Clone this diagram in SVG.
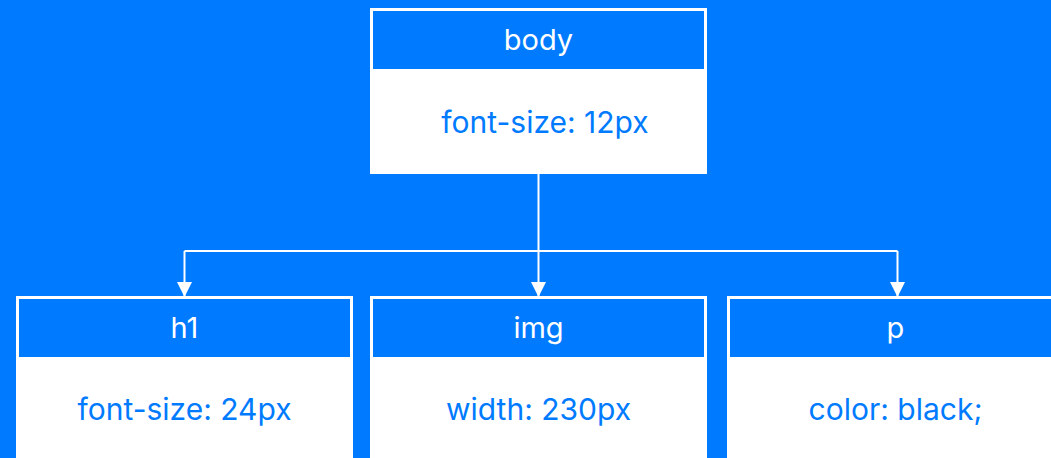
<svg xmlns="http://www.w3.org/2000/svg" width="1051" height="458" viewBox="0 0 1051 458">
<style>
.frame{fill:#ffffff}
.head{fill:#007bff}
.ht{font-family:Inter,"Noto Sans",sans-serif;font-size:29px;fill:#ffffff;text-anchor:middle}
.bt{font-family:Inter,"Noto Sans",sans-serif;font-size:30px;fill:#007bff;text-anchor:middle}
.conn{stroke:#ffffff;stroke-width:2;fill:none}
</style>
<defs>
<marker id="arr" markerWidth="16" markerHeight="16" refX="15" refY="8" orient="auto" markerUnits="userSpaceOnUse">
<path d="M0,0.5 L15,8 L0,15.5 Z" fill="#ffffff"/>
</marker>
</defs>
<rect x="0" y="0" width="1051" height="458" fill="#007bff"/>
<g id="connectors">
<path class="conn" d="M538.5,174 V251"/>
<path class="conn" d="M184.5,251 H897.5"/>
<path class="conn" d="M184.5,251 V297" marker-end="url(#arr)"/>
<path class="conn" d="M538.5,251 V297" marker-end="url(#arr)"/>
<path class="conn" d="M897.5,251 V297" marker-end="url(#arr)"/>
</g>
<g id="node-body">
<rect class="frame" x="370" y="8" width="337" height="166"/>
<rect class="head" x="373" y="11" width="331" height="58"/>
<text class="ht" x="538.5" y="50">body</text>
<text class="bt" x="545" y="133">font-size: 12px</text>
</g>
<g id="node-h1">
<rect class="frame" x="16" y="296" width="337" height="170"/>
<rect class="head" x="19" y="299" width="331" height="58"/>
<text class="ht" x="184.5" y="338">h1</text>
<text class="bt" x="184.5" y="420">font-size: 24px</text>
</g>
<g id="node-img">
<rect class="frame" x="370" y="296" width="337" height="170"/>
<rect class="head" x="373" y="299" width="331" height="58"/>
<text class="ht" x="538.5" y="338">img</text>
<text class="bt" x="538.5" y="420">width: 230px</text>
</g>
<g id="node-p">
<rect class="frame" x="727" y="296" width="337" height="170"/>
<rect class="head" x="730" y="299" width="331" height="58"/>
<text class="ht" x="895.5" y="338">p</text>
<text class="bt" x="895.5" y="420">color: black;</text>
</g>
</svg>
